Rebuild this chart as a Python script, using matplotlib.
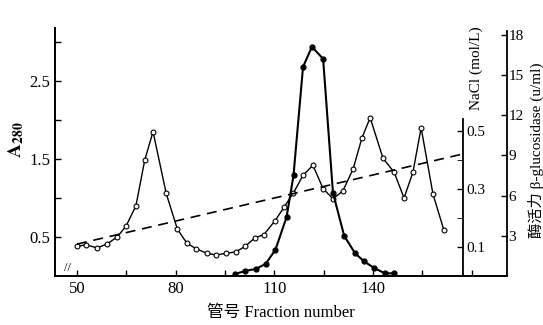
import matplotlib
matplotlib.use('Agg')
import matplotlib.pyplot as plt

# A280 (open circles)
frac_a = [50, 52.7, 56.1, 59.1, 62.2, 64.9, 67.9, 70.6, 73.1, 77.1, 80.5,
          83.4, 86.2, 89.5, 92.3, 95.3, 98.3, 101.1, 104.1, 106.8, 110.2,
          112.9, 115.7, 118.7, 121.7, 124.8, 127.8, 130.8, 133.9, 136.6,
          139.1, 143.0, 146.4, 149.4, 152.1, 154.6, 158.2, 161.5]
a280 = [0.38, 0.40, 0.36, 0.41, 0.50, 0.64, 0.90, 1.49, 1.85, 1.06, 0.60,
        0.42, 0.35, 0.29, 0.27, 0.29, 0.31, 0.38, 0.49, 0.53, 0.71,
        0.88, 1.06, 1.29, 1.42, 1.12, 0.99, 1.09, 1.37, 1.77,
        2.03, 1.51, 1.33, 1.00, 1.33, 1.90, 1.05, 0.59]

# beta-glucosidase activity (filled circles)
frac_e = [98.0, 101.2, 104.4, 107.3, 110.3, 113.7, 115.8, 118.7, 121.4,
          124.8, 127.8, 131.2, 134.5, 137.2, 140.3, 143.6, 146.4]
enzyme = [0.15, 0.38, 0.53, 0.9, 1.95, 4.4, 7.5, 15.6, 17.1,
          16.2, 6.2, 3.0, 1.7, 1.1, 0.6, 0.2, 0.2]

# NaCl gradient
frac_n = [50, 167]
nacl = [0.11, 0.42]

serif = ['Liberation Serif', 'Noto Sans CJK SC']
plt.rcParams['font.family'] = serif
plt.rcParams['mathtext.fontset'] = 'stix'

fig = plt.figure(figsize=(5.43, 3.25), dpi=100)
ax = fig.add_axes([55/543, 49/325, 452/543, 248/325])

ax.plot(frac_a, a280, '-', color='black', lw=1.0, marker='o', ms=3.5,
        mfc='white', mec='black', mew=0.8, zorder=3)
ax.set_xlim(43.3, 180.7)
ax.set_ylim(0, 3.18)
ax.set_xticks([50, 80, 110, 140])
ax.set_xticks([65, 95, 125, 155, 170], minor=True)
ax.set_yticks([0.5, 1.5, 2.5])
ax.set_yticks([1.0, 2.0, 3.0], minor=True)
ax.tick_params(direction='in', labelsize=12, length=4, width=1)
ax.tick_params(which='minor', direction='in', length=4, width=1)
ax.spines['top'].set_visible(False)
ax.spines['right'].set_visible(False)
ax.spines['left'].set_linewidth(1.4)
ax.spines['bottom'].set_linewidth(1.4)
ax.set_xlabel('管号 Fraction number', fontsize=12, labelpad=6)
fig.text(16/543, 1 - 140/325, r'$\mathbf{A}_{\mathbf{280}}$', rotation=90,
         ha='center', va='center', fontsize=14)
ax.text(46, 0.02, '//', fontsize=9, ha='left', va='bottom')

# NaCl axis
ax2 = ax.twinx()
ax2.plot(frac_n, nacl, '--', color='black', lw=1.2, dashes=(6, 4))
ax2.set_ylim(0, 0.855)
ax2.spines['right'].set_position(('axes', 0.903))
ax2.spines['right'].set_bounds(0, 0.54)
ax2.spines['right'].set_linewidth(1.3)
for s in ['top', 'left', 'bottom']:
    ax2.spines[s].set_visible(False)
ax2.set_yticks([0.1, 0.3, 0.5])
ax2.set_yticks([0.2, 0.4], minor=True)
ax2.tick_params(direction='in', labelsize=11, length=4, width=1, pad=2)
ax2.tick_params(which='minor', direction='in', length=4)
fig.text(476/543, 1 - 68/325, 'NaCl (mol/L)', rotation=90,
         ha='center', va='center', fontsize=11)

# enzyme axis
ax3 = ax.twinx()
ax3.plot(frac_e, enzyme, '-', color='black', lw=1.5, marker='o', ms=3.5,
         mfc='black', mec='black')
ax3.set_ylim(0, 18.5)
ax3.spines['right'].set_bounds(0, 18.3)
ax3.spines['right'].set_linewidth(1.3)
for s in ['top', 'left', 'bottom']:
    ax3.spines[s].set_visible(False)
ax3.set_yticks([3, 6, 9, 12, 15, 18])
ax3.tick_params(direction='in', labelsize=11, length=4, width=1, pad=1)
fig.text(536/543, 1 - 150/325, '酶活力 β-glucosidase (u/ml)', rotation=90,
         ha='center', va='center', fontsize=11)

fig.savefig('out.png', dpi=100)
